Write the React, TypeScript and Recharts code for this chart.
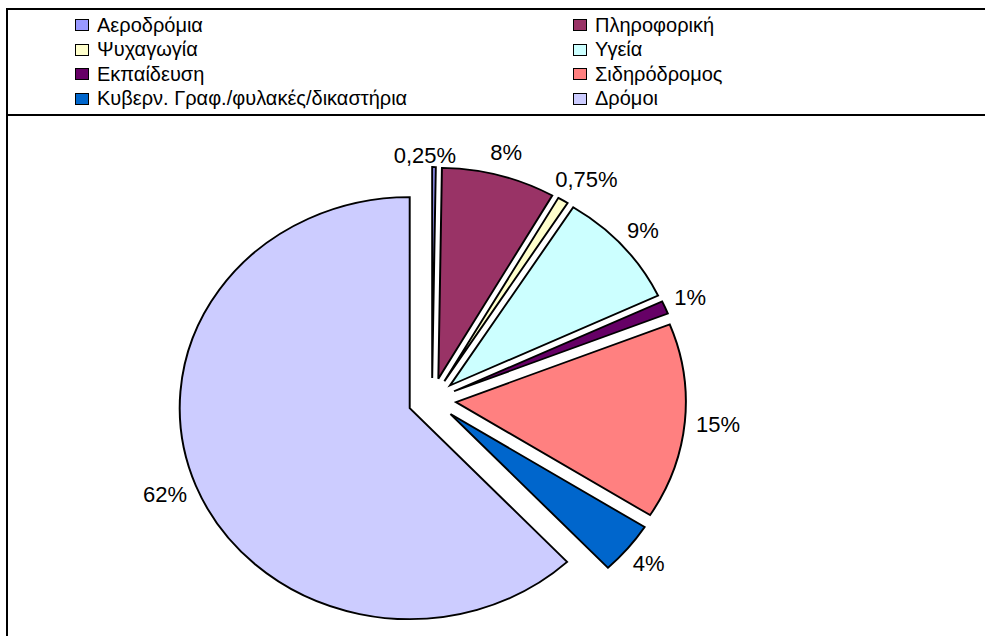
import React from 'react';
import { PieChart, Pie, Cell, Sector } from 'recharts';

const categories = [
  'Αεροδρόμια',
  'Πληροφορική',
  'Ψυχαγωγία',
  'Υγεία',
  'Εκπαίδευση',
  'Σιδηρόδρομος',
  'Κυβερν. Γραφ./φυλακές/δικαστήρια',
  'Δρόμοι',
];
const shares = [0.25, 8, 0.75, 9, 1, 15, 4, 62];
const colors = ['#9999FF', '#993366', '#FFFFCC', '#CCFFFF', '#660066', '#FF8080', '#0066CC', '#CCCCFF'];

const data = categories.map((name, i) => ({ name, value: shares[i] }));

const FONT = '"Liberation Sans", Arial, sans-serif';
const RAD = Math.PI / 180;
const CX = 432;
const CY = 400;
const R = 211;
const SX = 1.09; // original picture is stretched horizontally
const EXPLODE = 22;

const fmt = (v: number) => `${String(v).replace('.', ',')}%`;

const ExplodedSlice = (props: any) => {
  const { cx, cy, midAngle, ...rest } = props;
  const dx = EXPLODE * Math.cos(-midAngle * RAD);
  const dy = EXPLODE * Math.sin(-midAngle * RAD);
  return (
    <g transform={`translate(${cx} 0) scale(${SX} 1) translate(${-cx} 0)`}>
      <Sector {...rest} cx={cx + dx} cy={cy + dy} />
    </g>
  );
};

const renderLabel = (props: any) => {
  const { cx, cy, midAngle, outerRadius, value } = props;
  const cos = Math.cos(-midAngle * RAD);
  const sin = Math.sin(-midAngle * RAD);
  const text = fmt(value);
  const w = text.length * 12;
  const r = outerRadius + EXPLODE + 14;
  let x = cx + SX * r * cos + (w / 2) * cos;
  let y = cy + r * sin + 10 * sin;
  let anchor: 'middle' | 'end' = 'middle';
  if (value < 0.5) {
    // tiny slice: label sits to the left of it
    anchor = 'end';
    x = cx + SX * r * cos + 22;
    y = cy + r * sin + 2;
  }
  return (
    <text x={x} y={y} textAnchor={anchor} dominantBaseline="central" fontSize={22} fill="#000" fontFamily={FONT}>
      {text}
    </text>
  );
};

const LegendBox = () => (
  <div style={{ position: 'absolute', left: 7, top: 9, width: 978, height: 106, fontFamily: FONT }}>
    {categories.map((name, i) => {
      const col = i % 2;
      const row = Math.floor(i / 2);
      const top = 16 + row * 24.5;
      const left = col === 0 ? 68 : 566;
      return (
        <div key={name} style={{ position: 'absolute', left, top: top - 11, height: 22, display: 'flex', alignItems: 'center', whiteSpace: 'nowrap' }}>
          <span style={{ display: 'inline-block', width: 14, height: 12, background: colors[i], border: '1.5px solid #000', boxSizing: 'border-box', marginRight: 8 }} />
          <span style={{ fontSize: 20, color: '#000' }}>{name}</span>
        </div>
      );
    })}
  </div>
);

export default function App() {
  return (
    <div style={{ position: 'absolute', left: 0, top: 0, width: 985, height: 636, overflow: 'hidden', background: '#fff' }}>
      <div style={{ position: 'absolute', left: 6, top: 8, width: 1000, height: 108, border: '2px solid #000', boxSizing: 'border-box' }} />
      <div style={{ position: 'absolute', left: 6, top: 114, width: 1000, height: 600, border: '2px solid #000', boxSizing: 'border-box' }} />
      <LegendBox />
      <div style={{ position: 'absolute', left: 0, top: 0 }}>
        <PieChart width={985} height={636} margin={{ top: 0, right: 0, bottom: 0, left: 0 }}>
          <Pie
            data={data}
            dataKey="value"
            nameKey="name"
            cx={CX}
            cy={CY}
            outerRadius={R}
            startAngle={90}
            endAngle={-270}
            stroke="#000"
            strokeWidth={1.8}
            shape={ExplodedSlice}
            label={renderLabel}
            labelLine={false}
            isAnimationActive={false}
          >
            {data.map((d, i) => (
              <Cell key={d.name} fill={colors[i]} />
            ))}
          </Pie>
        </PieChart>
      </div>
    </div>
  );
}
